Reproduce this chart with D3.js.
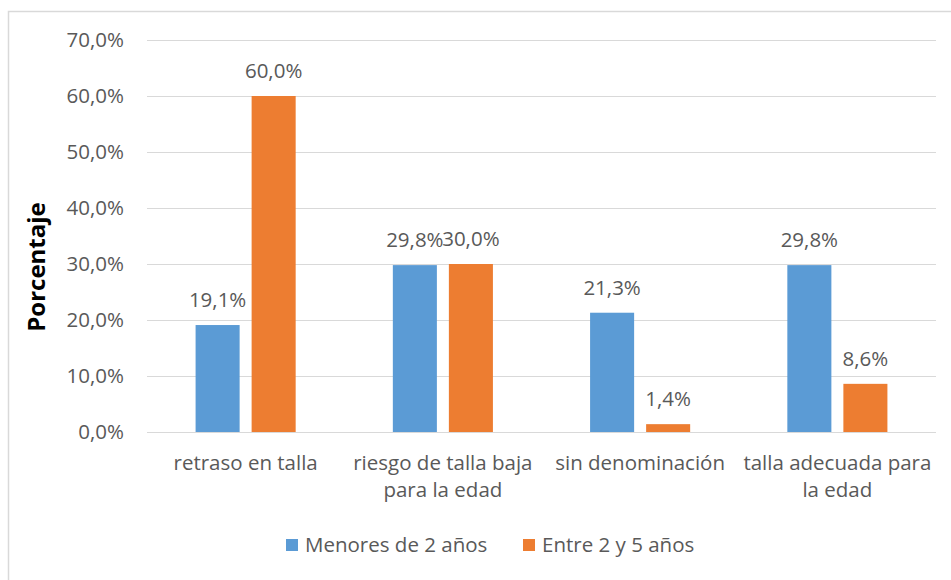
<!DOCTYPE html>
<html>
<head>
<meta charset="utf-8">
<script src="https://cdn.jsdelivr.net/npm/d3@7"></script>
<style>
    body { margin: 0; background: #fff; }
    svg { display: block; }
    text { font-family: 'Open Sans', sans-serif; fill: #595959; }
</style>
</head>
<body>
<div class="chart"></div>
<script>
// data
const categories = ['retraso en talla', 'riesgo de talla baja para la edad', 'sin denominación', 'talla adecuada para la edad'];
const category_lines = [['retraso en talla'], ['riesgo de talla baja', 'para la edad'], ['sin denominación'], ['talla adecuada para', 'la edad']];
const series_names = ['Menores de 2 años', 'Entre 2 y 5 años'];
const menores_2 = [19.1, 29.8, 21.3, 29.8];
const entre_2_5 = [60.0, 30.0, 1.4, 8.6];
const y_ticks = [0, 10, 20, 30, 40, 50, 60, 70];
const colors = ['#5B9BD5', '#ED7D31'];

const width = 951, height = 580;
const fontSize = '20.5px';
let padding = {'left': 147, 'right': 15, 'top': 40, 'bottom': 148};
let fmt = d => d.toFixed(1).replace('.', ',') + '%';

let svg = d3.select('.chart')
    .append('svg')
    .attr('width', width)
    .attr('height', height);

// chart border
svg.append('path')
    .attr('d', `M8.5,${height} V11.5 H${width}`)
    .attr('fill', 'none')
    .attr('stroke', '#d9d9d9')
    .attr('stroke-width', 1.5);

let x = d3.scaleBand()
    .domain(categories)
    .range([padding.left, width - padding.right]);
let x_inner = d3.scaleBand()
    .domain(series_names)
    .range([0, x.bandwidth()])
    .paddingInner(0.214)
    .paddingOuter(0.867);
let y = d3.scaleLinear()
    .domain([0, 70])
    .range([height - padding.bottom, padding.top]);

// gridlines
svg.append('g')
    .selectAll('line')
    .data(y_ticks)
    .enter().append('line')
    .attr('x1', padding.left)
    .attr('x2', width - padding.right)
    .attr('y1', d => Math.round(y(d)) + 0.5)
    .attr('y2', d => Math.round(y(d)) + 0.5)
    .attr('stroke', '#d9d9d9')
    .attr('stroke-width', 1);

// y axis
let axis_y = d3.axisLeft(y)
    .tickValues(y_ticks)
    .tickFormat(fmt)
    .tickSize(0)
    .tickPadding(23);
svg.append('g')
    .attr('transform', `translate(${padding.left}, 0)`)
    .call(axis_y)
    .call(g => g.select('.domain').remove())
    .selectAll('text')
    .attr('font-family', "'Open Sans', sans-serif")
    .attr('font-size', fontSize)
    .attr('fill', '#595959');

svg.append('text')
    .attr('transform', `translate(37, 267) rotate(-90)`)
    .attr('text-anchor', 'middle')
    .attr('dy', '0.35em')
    .attr('font-size', '24px')
    .attr('font-weight', 'bold')
    .style('fill', '#000')
    .text('Porcentaje');

// bars
let rows = categories.map((c, i) => ({'cat': c, 'vals': [menores_2[i], entre_2_5[i]]}));
let groups = svg.append('g')
    .selectAll('g')
    .data(rows)
    .enter().append('g')
    .attr('transform', d => `translate(${x(d.cat)}, 0)`);

groups.selectAll('rect')
    .data(d => d.vals.map((v, j) => ({'name': series_names[j], 'v': v, 'j': j})))
    .enter().append('rect')
    .attr('x', d => x_inner(d.name))
    .attr('width', x_inner.bandwidth())
    .attr('y', d => y(d.v))
    .attr('height', d => y(0) - y(d.v))
    .style('fill', d => colors[d.j]);

groups.selectAll('text')
    .data(d => d.vals.map((v, j) => ({'name': series_names[j], 'v': v, 'j': j})))
    .enter().append('text')
    .attr('x', d => x_inner(d.name) + x_inner.bandwidth() / 2)
    .attr('y', d => y(d.v) - 25)
    .attr('dy', '0.35em')
    .attr('text-anchor', 'middle')
    .attr('font-size', fontSize)
    .text(d => fmt(d.v));

// category labels
svg.append('g')
    .selectAll('text')
    .data(categories)
    .enter().append('text')
    .attr('x', d => x(d) + x.bandwidth() / 2)
    .attr('y', height - padding.bottom + 31)
    .attr('text-anchor', 'middle')
    .attr('font-size', fontSize)
    .each(function (d, i) {
        d3.select(this).selectAll('tspan')
            .data(category_lines[i])
            .enter().append('tspan')
            .attr('x', x(d) + x.bandwidth() / 2)
            .attr('dy', (l, k) => k === 0 ? '0.35em' : '27px')
            .text(l => l);
    });

// legend
let legend_x = [286, 523];
let legend = svg.append('g')
    .selectAll('g')
    .data(series_names)
    .enter().append('g')
    .attr('transform', (d, i) => `translate(${legend_x[i]}, 545)`);
legend.append('rect')
    .attr('x', 0)
    .attr('y', -6)
    .attr('width', 12)
    .attr('height', 12)
    .style('fill', (d, i) => colors[i]);
legend.append('text')
    .attr('x', 19)
    .attr('dy', '0.35em')
    .attr('font-size', fontSize)
    .text(d => d);
</script>
</body>
</html>
